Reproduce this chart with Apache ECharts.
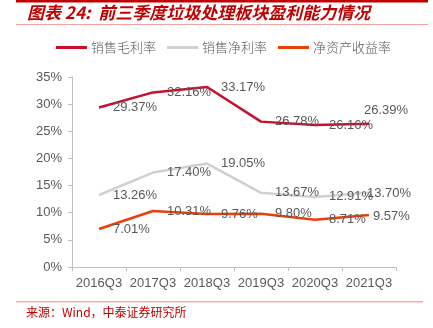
<!DOCTYPE html>
<html><head><meta charset="utf-8">
<script src="https://cdn.jsdelivr.net/npm/echarts@6/dist/echarts.min.js"></script>
<style>html,body{margin:0;padding:0;background:#fff}#c{width:433px;height:328px}</style>
</head><body><div id="c"></div>
<script>
const categories = ['2016Q3','2017Q3','2018Q3','2019Q3','2020Q3','2021Q3'];
const grossMargin = [29.37, 32.16, 33.17, 26.78, 26.16, 26.39];
const netMargin = [13.26, 17.40, 19.05, 13.67, 12.91, 13.70];
const roe = [7.01, 10.31, 9.76, 9.80, 8.71, 9.57];
const seriesNames = ['销售毛利率','销售净利率','净资产收益率'];
const yTicks = [0,5,10,15,20,25,30,35];

const colors = ['#C8102E', '#D0D0D0', '#E8400C'];
const lastPos = [[-5,-13],[-2,1],[4,1.5]];

function build(vals, idx){
  return vals.map((v,i)=>{
    const item = {value:v};
    if(i===vals.length-1){
      item.label = {show:true, position: lastPos[idx], align:'left', verticalAlign:'middle', offset:[0,0]};
    }
    return item;
  });
}

const chart = echarts.init(document.getElementById('c'), null, {renderer:'canvas'});
const labelFont = 'Liberation Sans, Arial, sans-serif';
chart.setOption({
  animation:false,
  color: colors,
  grid:{left:72, right:37, top:77, bottom:61, containLabel:false},
  legend:{
    top:41, left:56, padding:0, itemGap:11, itemWidth:31, itemHeight:3, icon:'rect',
    textStyle:{color:'#595959', fontSize:13, fontFamily:'Noto Sans CJK SC', fontWeight:300, padding:[0,0,0,-1]},
    data: seriesNames
  },
  xAxis:{
    type:'category', data:categories, boundaryGap:true,
    axisLine:{lineStyle:{color:'#BFBFBF', width:1}},
    axisTick:{show:true, length:4, lineStyle:{color:'#BFBFBF'}},
    axisLabel:{color:'#595959', fontSize:13, fontFamily:labelFont, margin:10, interval:0}
  },
  yAxis:{
    type:'value', min:0, max:35, interval:5,
    axisLine:{show:true, lineStyle:{color:'#BFBFBF'}},
    axisTick:{show:true, length:4, lineStyle:{color:'#BFBFBF'}},
    splitLine:{show:false},
    axisLabel:{color:'#595959', fontSize:13, fontFamily:labelFont, margin:10,
      formatter:v=> yTicks.includes(v) ? v+'%' : ''}
  },
  series:[grossMargin, netMargin, roe].map((vals,idx)=>({
    name: seriesNames[idx], type:'line', data: build(vals, idx),
    showSymbol:true, symbol:'circle', symbolSize:0.01,
    itemStyle:{color: colors[idx]},
    lineStyle:{width:2.5, color: colors[idx]},
    label:{show:true, position:'right', distance:14, offset:[0,1.5],
      color:'#595959', fontSize:13, fontFamily:labelFont,
      formatter:p=>p.value.toFixed(2)+'%'},
    labelLayout:{hideOverlap:false},
    z: 3-idx
  })),
  graphic:[
    {type:'rect', shape:{x:16,y:0,width:412,height:2.5}, style:{fill:'#C00000'}},
    {type:'text', left:27, top:4, style:{text:'图表 24:  前三季度垃圾处理板块盈利能力情况', fill:'#C00000',
      font:'italic bold 17px "Noto Sans CJK SC"'}},
    {type:'rect', shape:{x:16,y:24,width:412,height:1}, style:{fill:'#F2A0A0'}},
    {type:'rect', shape:{x:16,y:301,width:407,height:1.5}, style:{fill:'#F2B0B0'}},
    {type:'text', left:26, top:306, style:{text:'来源：Wind，中泰证券研究所', fill:'#C00000',
      font:'12px "Noto Sans CJK SC"'}}
  ]
});
</script></body></html>
